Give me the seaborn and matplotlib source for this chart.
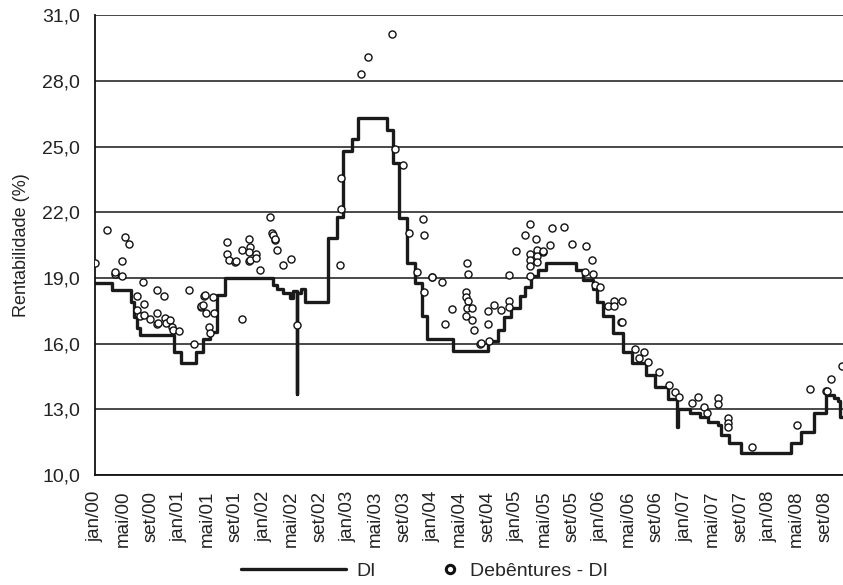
import numpy as np
import pandas as pd
import matplotlib
matplotlib.use('Agg')
import matplotlib.pyplot as plt
import seaborn as sns
from matplotlib.lines import Line2D

# DI: change points of the step series (date, rate %)
di_dates = [
    '2000-01-01', '2000-03-13', '2000-06-07', '2000-06-19', '2000-07-01', '2000-07-13',
    '2000-12-07', '2001-01-10', '2001-03-16', '2001-04-13', '2001-05-13', '2001-06-13',
    '2001-07-16', '2002-02-13', '2002-02-27', '2002-03-25', '2002-04-25', '2002-05-10',
    '2002-05-24', '2002-05-26', '2002-06-13', '2002-07-01', '2002-10-07', '2002-11-16',
    '2002-12-13', '2003-01-19', '2003-02-16', '2003-06-19', '2003-07-16', '2003-08-10',
    '2003-09-13', '2003-10-19', '2003-11-21', '2003-12-10', '2004-04-01', '2004-09-01',
    '2004-10-13', '2004-11-10', '2004-12-07', '2005-01-16', '2005-02-07', '2005-03-07',
    '2005-04-04', '2005-05-10', '2005-09-19', '2005-10-16', '2005-11-28', '2005-12-19',
    '2006-01-10', '2006-02-25', '2006-04-07', '2006-05-19', '2006-07-16', '2006-08-25',
    '2006-10-22', '2006-12-01', '2006-12-03', '2007-01-25', '2007-03-07', '2007-04-13',
    '2007-05-28', '2007-06-10', '2007-07-13', '2007-09-04', '2008-04-07', '2008-05-22',
    '2008-07-16', '2008-09-04', '2008-10-10', '2008-10-28', '2008-11-07', '2008-11-20',
]
di_rates = [
    18.75, 18.45, 17.9, 17.2, 16.7, 16.4,
    15.64, 15.1, 15.6, 16.2, 16.55, 18.2,
    19.0, 18.7, 18.5, 18.3, 18.1, 18.4,
    13.7, 18.3, 18.5, 17.9, 20.83, 21.8,
    24.8, 25.33, 26.3, 25.75, 24.27, 21.75,
    19.7, 18.75, 17.24, 16.2, 15.65, 16.1,
    16.63, 17.2, 17.64, 18.16, 18.6, 19.07,
    19.38, 19.68, 19.38, 18.9, 18.5, 17.9,
    17.24, 16.5, 15.6, 15.1, 14.55, 14.04,
    13.45, 12.2, 13.0, 12.83, 12.67, 12.44,
    12.29, 11.83, 11.45, 11.02, 11.45, 11.98,
    12.82, 13.66, 13.5, 13.4, 12.67, 12.67,
]

# Debentures - DI observations
deb_dates = [
    '2000-01-03', '2000-02-21', '2000-03-29', '2000-03-27', '2000-04-28', '2000-04-29',
    '2000-05-09', '2000-05-28', '2000-06-29', '2000-07-01', '2000-07-13', '2000-07-28',
    '2000-07-30', '2000-07-30', '2000-08-25', '2000-09-25', '2000-09-28', '2000-09-30',
    '2000-09-28', '2000-10-25', '2000-10-30', '2000-11-04', '2000-11-22', '2000-11-28',
    '2000-12-03', '2000-12-30', '2001-02-13', '2001-03-07', '2001-04-04', '2001-04-06',
    '2001-04-13', '2001-04-19', '2001-04-21', '2001-04-25', '2001-05-10', '2001-05-13',
    '2001-05-25', '2001-06-01', '2001-07-28', '2001-07-28', '2001-08-04', '2001-09-01',
    '2001-09-03', '2001-09-28', '2001-09-28', '2001-11-01', '2001-11-04', '2001-11-01',
    '2001-11-01', '2001-11-03', '2001-11-28', '2001-11-28', '2001-12-16', '2002-01-28',
    '2002-02-08', '2002-02-11', '2002-02-19', '2002-02-21', '2002-02-28', '2002-03-28',
    '2002-04-28', '2002-05-28', '2002-11-28', '2002-12-01', '2002-12-01', '2003-02-28',
    '2003-03-28', '2003-07-10', '2003-07-25', '2003-08-28', '2003-09-25', '2003-10-28',
    '2003-11-25', '2003-11-28', '2003-11-28', '2004-01-01', '2004-01-03', '2004-02-16',
    '2004-02-28', '2004-03-28', '2004-06-01', '2004-06-04', '2004-05-28', '2004-05-28',
    '2004-06-04', '2004-06-01', '2004-06-25', '2004-05-28', '2004-06-25', '2004-07-01',
    '2004-07-28', '2004-07-30', '2004-09-01', '2004-09-01', '2004-09-04', '2004-09-28',
    '2004-10-28', '2004-12-01', '2004-12-01', '2004-12-01', '2005-01-01', '2005-02-07',
    '2005-02-28', '2005-02-28', '2005-02-28', '2005-02-28', '2005-02-28', '2005-03-28',
    '2005-04-01', '2005-04-01', '2005-04-01', '2005-04-25', '2005-04-27', '2005-05-28',
    '2005-06-04', '2005-07-28', '2005-09-01', '2005-10-28', '2005-11-01', '2005-11-25',
    '2005-11-28', '2005-12-10', '2005-12-28', '2006-02-04', '2006-02-28', '2006-02-28',
    '2006-04-04', '2006-04-01', '2006-04-03', '2006-06-01', '2006-06-19', '2006-07-10',
    '2006-07-28', '2006-09-10', '2006-10-25', '2006-11-22', '2006-12-07', '2007-02-04',
    '2007-02-28', '2007-03-28', '2007-04-07', '2007-05-25', '2007-05-25', '2007-07-07',
    '2007-07-07', '2007-07-07', '2007-10-19', '2008-05-01', '2008-06-28', '2008-09-07',
    '2008-09-09', '2008-09-28', '2008-11-13',
]
deb_rates = [
    19.7, 21.2, 19.18, 19.28, 19.07, 19.76,
    20.87, 20.57, 17.55, 18.16, 17.24, 18.8,
    17.8, 17.32, 17.13, 17.42, 16.9, 16.95,
    18.46, 18.16, 17.16, 16.94, 17.09, 16.74,
    16.63, 16.59, 18.43, 15.98, 17.67, 17.72,
    17.78, 18.16, 18.2, 17.4, 16.74, 16.48,
    18.13, 17.4, 20.64, 20.1, 19.82, 19.73,
    19.76, 20.26, 17.13, 20.8, 20.4, 20.17,
    19.76, 19.8, 20.1, 19.9, 19.38, 21.77,
    21.05, 20.98, 20.75, 20.8, 20.26, 19.57,
    19.88, 16.83, 19.57, 22.15, 23.57, 28.33,
    29.09, 30.16, 24.9, 24.17, 21.06, 19.26,
    21.71, 20.96, 18.34, 19.03, 19.06, 18.8,
    16.89, 17.58, 19.68, 19.16, 18.37, 18.11,
    17.93, 17.65, 17.65, 17.27, 17.08, 16.63,
    15.98, 16.02, 17.47, 16.9, 16.1, 17.76,
    17.52, 19.13, 17.93, 17.67, 20.23, 20.96,
    21.47, 20.1, 19.8, 19.53, 19.07, 20.78,
    20.29, 19.99, 19.73, 20.19, 20.22, 20.49,
    21.29, 21.31, 20.57, 19.25, 20.45, 19.84,
    19.18, 18.66, 18.6, 17.73, 17.97, 17.74,
    17.97, 16.97, 17.0, 15.76, 15.34, 15.64,
    15.16, 14.7, 14.12, 13.78, 13.55, 13.28,
    13.55, 13.12, 12.82, 13.5, 13.25, 12.59,
    12.39, 12.21, 11.3, 12.27, 13.92, 13.83,
    13.86, 14.38, 15.0,
]

y_ticks = [10, 13, 16, 19, 22, 25, 28, 31]
y_labels = ['10,0', '13,0', '16,0', '19,0', '22,0', '25,0', '28,0', '31,0']

x_tick_dates = [
    '2000-01-01', '2000-05-01', '2000-09-01', '2001-01-01', '2001-05-01', '2001-09-01',
    '2002-01-01', '2002-05-01', '2002-09-01', '2003-01-01', '2003-05-01', '2003-09-01',
    '2004-01-01', '2004-05-01', '2004-09-01', '2005-01-01', '2005-05-01', '2005-09-01',
    '2006-01-01', '2006-05-01', '2006-09-01', '2007-01-01', '2007-05-01', '2007-09-01',
    '2008-01-01', '2008-05-01', '2008-09-01',
]
x_labels = [
    'jan/00', 'mai/00', 'set/00', 'jan/01', 'mai/01', 'set/01',
    'jan/02', 'mai/02', 'set/02', 'jan/03', 'mai/03', 'set/03',
    'jan/04', 'mai/04', 'set/04', 'jan/05', 'mai/05', 'set/05',
    'jan/06', 'mai/06', 'set/06', 'jan/07', 'mai/07', 'set/07',
    'jan/08', 'mai/08', 'set/08',
]

df_di = pd.DataFrame({'data': pd.to_datetime(di_dates), 'taxa': di_rates})
df_deb = pd.DataFrame({'data': pd.to_datetime(deb_dates), 'taxa': deb_rates})

sns.set_theme(style='white')
plt.rcParams['font.family'] = ['Liberation Sans', 'DejaVu Sans']

fig = plt.figure(figsize=(8.43, 5.85), dpi=100)
ax = fig.add_axes([0.1127, 0.188, 0.8873, 0.786])

sns.lineplot(data=df_di, x='data', y='taxa', drawstyle='steps-post', estimator=None,
             color='#1a1a1a', lw=2.4, ax=ax, zorder=2)
sns.scatterplot(data=df_deb, x='data', y='taxa', marker='o', s=26, color='white',
                edgecolor='#111111', linewidth=1.0, ax=ax, zorder=3)

ax.set_xlim(pd.Timestamp('2000-01-01'), pd.Timestamp('2008-11-18'))
ax.set_ylim(10, 31)
ax.set_yticks(y_ticks)
ax.set_yticklabels(y_labels)
ax.set_xticks(pd.to_datetime(x_tick_dates))
ax.set_xticklabels(x_labels, rotation=90)

ax.yaxis.grid(True, color='#3a3a3a', lw=1.3)
ax.xaxis.grid(False)
ax.set_axisbelow(True)
for s in ['top', 'right']:
    ax.spines[s].set_visible(False)
for s in ['left', 'bottom']:
    ax.spines[s].set_color('#111111')
    ax.spines[s].set_linewidth(1.3)

ax.tick_params(axis='y', direction='out', length=5.8, width=1.2, color='#111111',
               labelsize=14, labelcolor='#222222', pad=5)
ax.tick_params(axis='x', direction='out', length=5.5, width=1.2, color='#111111',
               labelsize=13.5, labelcolor='#222222', pad=6)
ax.set_xlabel('')
ax.set_ylabel('Rentabilidade (%)', fontsize=13, color='#222222', labelpad=9)

h1 = Line2D([], [], color='#1a1a1a', lw=2.4)
h2 = Line2D([], [], ls='none', marker='o', mfc='white', mec='#111111', mew=2.2, ms=6)
fig.legend([h1], ['DI'], loc='center', bbox_to_anchor=(0.366, 0.024), frameon=False,
           handlelength=5.4, handletextpad=0.55, fontsize=14)
fig.legend([h2], ['Debêntures - DI'], loc='center', bbox_to_anchor=(0.623, 0.024),
           frameon=False, handlelength=0.8, handletextpad=0.6, fontsize=14)

fig.savefig('out.png', dpi=100)
